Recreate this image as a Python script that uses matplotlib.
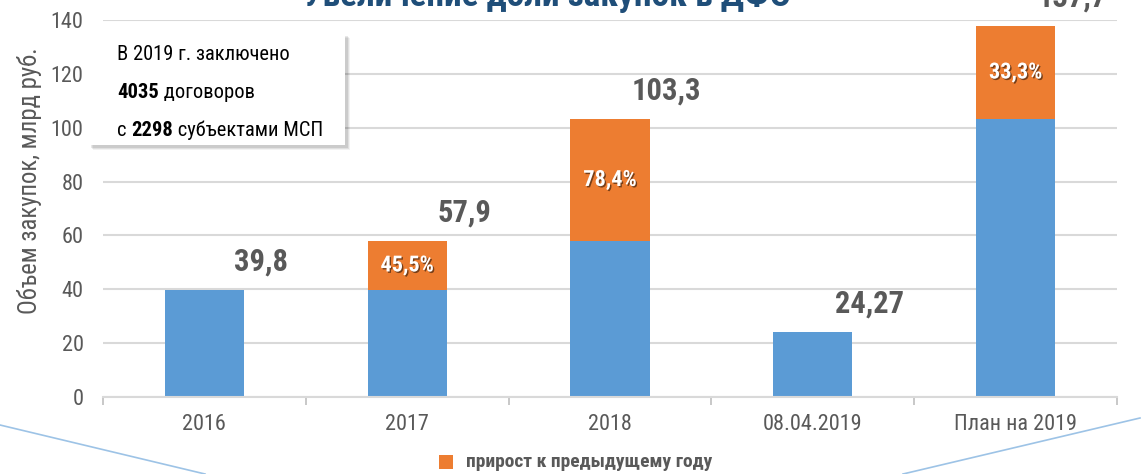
import matplotlib
matplotlib.use('Agg')
import numpy as np
import matplotlib.pyplot as plt
import matplotlib.patheffects as pe
import matplotlib.font_manager as fm
from matplotlib.lines import Line2D
from matplotlib.patches import Rectangle

categories = ['2016', '2017', '2018', '08.04.2019', 'План на 2019']
base = [39.8, 39.8, 57.9, 24.27, 103.3]
growth = [0, 18.1, 45.4, 0, 34.4]
totals = ['39,8', '57,9', '103,3', '24,27', '137,7']
growth_pct = ['', '45,5%', '78,4%', '', '33,3%']

# look for a narrow font (the original uses Arial Narrow)
entries = fm.fontManager.ttflist
names = {f.name for f in entries}
chosen = None
for n in ['Liberation Sans Narrow', 'Roboto Condensed', 'Open Sans Condensed', 'Noto Sans Condensed']:
    if n in names:
        chosen = (n, 'normal')
        break
if chosen is None:
    for f in entries:
        if str(f.stretch) in ('condensed', 'semi-condensed', 'extra-condensed') or \
                (isinstance(f.stretch, int) and f.stretch < 500):
            chosen = (f.name, 'condensed')
            break
if chosen is None:
    chosen = ('Liberation Sans', 'normal')
plt.rcParams['font.family'] = [chosen[0], 'DejaVu Sans']
plt.rcParams['font.stretch'] = chosen[1]
narrow = chosen[1] == 'condensed' or 'Narrow' in chosen[0] or 'Condensed' in chosen[0]
k = 1.0 if narrow else 0.88

blue = '#5b9bd5'
orange = '#ed7d31'
gray = '#595959'

fig = plt.figure(figsize=(11.41, 4.74), dpi=100)
ax = fig.add_axes([0.0903, 0.1624, 0.8887, 0.7954])

x = np.arange(len(categories))
ax.bar(x, base, width=0.39, color=blue, zorder=2)
ax.bar(x, growth, width=0.39, bottom=base, color=orange, zorder=2)

for i in range(len(categories)):
    top = base[i] + growth[i]
    ax.text(i + 0.28, top + 10.5, totals[i], ha='center', va='center',
            fontsize=22 * k, fontweight='bold', color=gray, clip_on=False)
    if growth_pct[i]:
        t = ax.text(i, base[i] + growth[i] / 2, growth_pct[i], ha='center', va='center',
                    fontsize=16 * k, fontweight='bold', color='white', zorder=3)
        t.set_path_effects([pe.withSimplePatchShadow(offset=(1, -1), shadow_rgbFace='black', alpha=0.5)])

ax.set_xlim(-0.5, 4.5)
ax.set_ylim(0, 140)
ax.set_yticks(range(0, 141, 20))
ax.set_xticks(x)
ax.set_xticklabels(categories)
ax.set_xticks(np.arange(-0.5, 5, 1), minor=True)
ax.tick_params(axis='x', which='major', length=0, pad=12, labelsize=16 * k, labelcolor=gray)
ax.tick_params(axis='x', which='minor', length=6, color='#bfbfbf', width=1.2)
ax.tick_params(axis='y', length=0, pad=14, labelsize=16 * k, labelcolor=gray)
ax.grid(axis='y', color='#d9d9d9', linewidth=1.5, zorder=0)
for s in ['top', 'right', 'left']:
    ax.spines[s].set_visible(False)
ax.spines['bottom'].set_color('#d9d9d9')
ax.spines['bottom'].set_linewidth(1.5)
ax.spines['bottom'].set_zorder(3)

fig.text(30 / 1141, 1 - 181 / 474, 'Объем закупок, млрд руб.', rotation=90,
         ha='center', va='center', fontsize=17.8 * k, color=gray)

fig.text(547 / 1141, 1 + 4 / 474, 'Увеличение доли закупок в ДФО', ha='center', va='center',
         fontsize=25.5 * k, fontweight='bold', color='#1f4e79')

# info box with a soft shadow
for j, a in enumerate([0.05, 0.07, 0.09]):
    off = 5 - j
    fig.add_artist(Rectangle(((88 + off) / 1141, 1 - (145 + off) / 474), 257 / 1141, 112 / 474,
                             transform=fig.transFigure, facecolor='black', alpha=a,
                             edgecolor='none', zorder=4))
fig.add_artist(Rectangle((88 / 1141, 1 - 145 / 474), 257 / 1141, 112 / 474,
                         transform=fig.transFigure, facecolor='white', edgecolor='none', zorder=5))
fs = 14.8 * k
fig.text(117 / 1141, 1 - 55 / 474, 'В 2019 г. заключено', fontsize=fs, va='center', zorder=6)
t1 = fig.text(117 / 1141, 1 - 93 / 474, '4035', fontsize=fs, fontweight='bold', va='center', zorder=6)
fig.canvas.draw()
r = fig.canvas.get_renderer()
w = t1.get_window_extent(r).width
fig.text((117 + w) / 1141, 1 - 93 / 474, ' договоров', fontsize=fs, va='center', zorder=6)
t2 = fig.text(117 / 1141, 1 - 130 / 474, 'с ', fontsize=fs, va='center', zorder=6)
w2 = t2.get_window_extent(r).width
t3 = fig.text((117 + w2) / 1141, 1 - 130 / 474, '2298', fontsize=fs, fontweight='bold', va='center', zorder=6)
w3 = t3.get_window_extent(r).width
fig.text((117 + w2 + w3) / 1141, 1 - 130 / 474, ' субъектами МСП', fontsize=fs, va='center', zorder=6)

# decorative lines
fig.add_artist(Line2D([0, 205 / 1141], [1 - 425 / 474, 0], color='#9dc3e6', lw=1.2))
fig.add_artist(Line2D([1140 / 1141, 903 / 1141], [1 - 418 / 474, 0], color='#9dc3e6', lw=1.2))

# legend
fig.add_artist(Rectangle((439 / 1141, 1 - 469 / 474), 14 / 1141, 14 / 474,
                         transform=fig.transFigure, facecolor=orange, edgecolor='none'))
fig.text(466 / 1141, 1 - 462 / 474, 'прирост к предыдущему году', fontsize=14 * k,
         fontweight='bold', color=gray, va='center')

fig.savefig('out.png', dpi=100)
